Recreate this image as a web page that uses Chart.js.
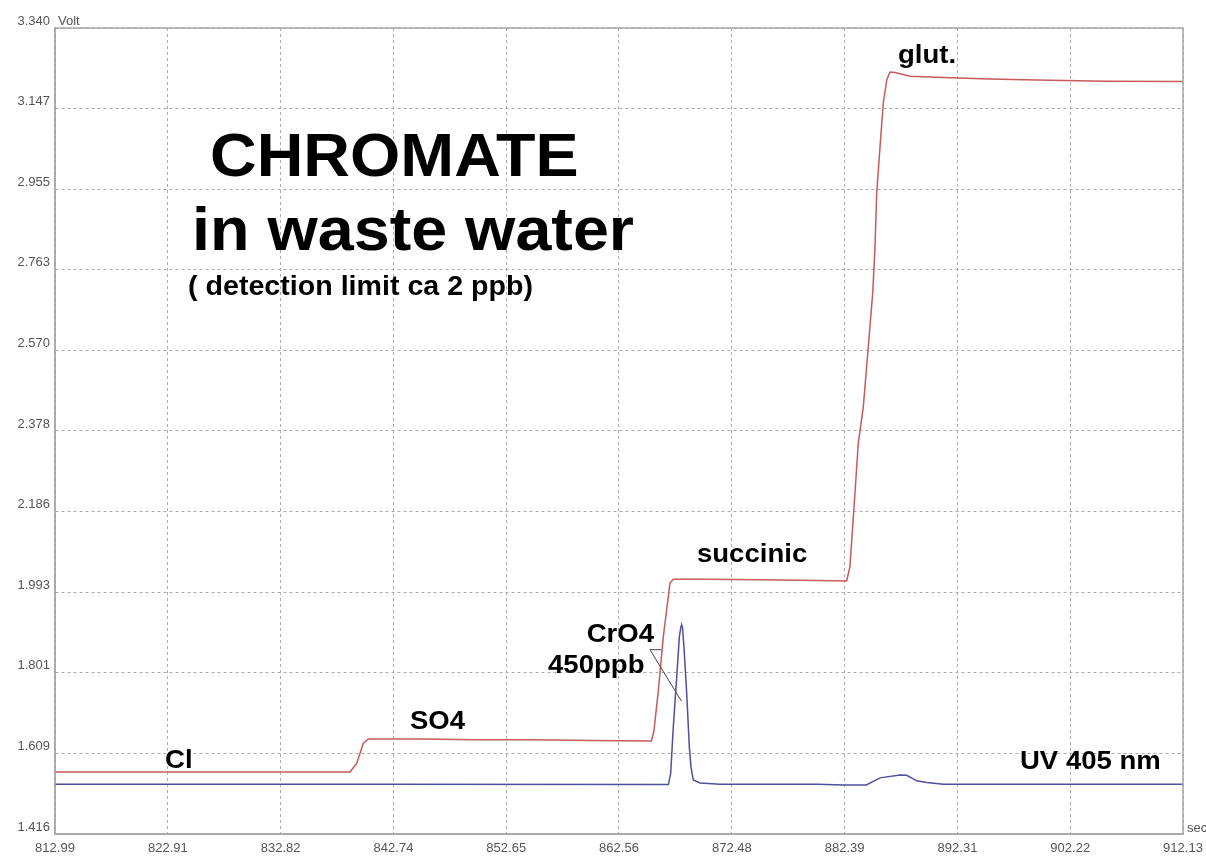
<!DOCTYPE html>
<html><head><meta charset="utf-8">
<script src="https://cdn.jsdelivr.net/npm/chart.js@4.4.1/dist/chart.umd.min.js"></script>
<style>html,body{margin:0;padding:0;background:#fff;overflow:hidden}#wrap{width:1206px;height:864px;position:relative}</style>
</head><body><div id="wrap"><canvas id="c" width="1206" height="864"></canvas></div>
<script>
// ---- data ----
const xTicks = [812.99, 822.91, 832.82, 842.74, 852.65, 862.56, 872.48, 882.39, 892.31, 902.22, 912.13];
const yTicks = [1.416, 1.609, 1.801, 1.993, 2.186, 2.378, 2.570, 2.763, 2.955, 3.147, 3.340];

// conductivity trace (red)
const condTime = [812.99, 838.92, 839.51, 839.80, 840.09, 840.53, 845.0, 850.0, 855.0, 860.0, 865.40, 865.62, 866.01, 866.16, 866.45, 866.75, 867.04, 867.33, 870.0, 875.0, 880.0, 882.57, 882.86, 883.30, 883.59, 884.03, 884.47, 884.86, 885.06, 885.21, 885.50, 885.79, 886.09, 886.38, 886.82, 888.13, 891.65, 895.17, 899.27, 905.42, 912.13];
const condVolt = [1.564, 1.564, 1.585, 1.609, 1.633, 1.643, 1.643, 1.641, 1.641, 1.639, 1.638, 1.660, 1.756, 1.800, 1.886, 1.951, 2.015, 2.024, 2.024, 2.023, 2.021, 2.020, 2.055, 2.230, 2.349, 2.435, 2.579, 2.708, 2.817, 2.946, 3.056, 3.161, 3.216, 3.235, 3.234, 3.225, 3.221, 3.218, 3.216, 3.213, 3.212];

// UV 405 nm trace (blue)
const uvTime = [812.99, 840.0, 866.90, 867.10, 867.33, 867.63, 867.86, 868.01, 868.07, 868.14, 868.27, 868.51, 868.74, 868.89, 869.09, 869.68, 871.44, 880.0, 882.3, 884.3, 885.5, 887.26, 887.85, 888.73, 889.61, 891.06, 912.13];
const uvVolt = [1.535, 1.535, 1.534, 1.560, 1.671, 1.789, 1.886, 1.912, 1.915, 1.910, 1.862, 1.752, 1.624, 1.575, 1.545, 1.538, 1.535, 1.535, 1.533, 1.533, 1.550, 1.557, 1.556, 1.543, 1.539, 1.535, 1.535];

// annotation texts anchored in data coordinates (time, volt)
const noteTexts = ['CHROMATE', 'in waste water', '( detection limit ca 2 ppb)', 'Cl', 'SO4', 'succinic', 'glut.', 'CrO4', '450ppb', 'UV 405 nm'];
const noteTime  = [826.61, 825.03, 824.68, 822.66, 844.19, 869.41, 887.08, 859.72, 856.32, 897.80];
const noteVolt  = [2.987, 2.810, 2.703, 1.574, 1.667, 2.065, 3.256, 1.875, 1.800, 1.571];
const noteSize  = [61, 61, 27, 26, 26, 26, 26, 26, 26, 26];
// leader line for CrO4 (time, volt)
const leaderTime = [866.25, 865.28, 868.05];
const leaderVolt = [1.856, 1.856, 1.733];

// ---- drawing ----
const FONT = '"Liberation Sans", Arial, Helvetica, sans-serif';
const toXY = (ts, vs) => ts.map((t, i) => ({x: t, y: vs[i]}));

const overlay = {
  id: 'overlay',
  afterDraw(chart) {
    const {ctx, chartArea: a, scales: {x, y}} = chart;
    ctx.save();
    ctx.setLineDash([]);
    ctx.strokeStyle = '#a8a8a8';
    ctx.lineWidth = 1.5;
    ctx.strokeRect(a.left, a.top, a.right - a.left, a.bottom - a.top);

    ctx.fillStyle = '#555';
    ctx.font = '13px ' + FONT;
    ctx.textAlign = 'left';
    ctx.textBaseline = 'middle';
    ctx.fillText('Volt', a.left + 3, y.getPixelForValue(yTicks[yTicks.length - 1]) - 7);
    ctx.fillText('sec', a.right + 4, y.getPixelForValue(yTicks[0]) - 6);

    // leader
    ctx.strokeStyle = '#444';
    ctx.lineWidth = 1;
    ctx.beginPath();
    leaderTime.forEach((t, i) => {
      const px = x.getPixelForValue(t), py = y.getPixelForValue(leaderVolt[i]);
      if (i === 0) ctx.moveTo(px, py); else ctx.lineTo(px, py);
    });
    ctx.stroke();

    ctx.fillStyle = '#000';
    ctx.textBaseline = 'alphabetic';
    noteTexts.forEach((txt, i) => {
      ctx.font = 'bold ' + noteSize[i] + 'px ' + FONT;
      const px = x.getPixelForValue(noteTime[i]), py = y.getPixelForValue(noteVolt[i]);
      ctx.save();
      ctx.translate(px, py);
      ctx.scale(1.06, 1);
      ctx.fillText(txt, 0, 0);
      ctx.restore();
    });
    ctx.restore();
  }
};

new Chart(document.getElementById('c'), {
  type: 'line',
  data: {
    datasets: [
      {label: 'Conductivity', data: toXY(condTime, condVolt), borderColor: '#c85a5a', borderWidth: 1.5, pointRadius: 0, tension: 0, fill: false},
      {label: 'UV 405 nm', data: toXY(uvTime, uvVolt), borderColor: '#4f4f9c', borderWidth: 1.5, pointRadius: 0, tension: 0, fill: false}
    ]
  },
  options: {
    responsive: false,
    animation: false,
    devicePixelRatio: 1,
    layout: {padding: {top: 28, right: 23, left: 0, bottom: 0}},
    plugins: {legend: {display: false}, tooltip: {enabled: false}},
    scales: {
      x: {
        type: 'linear',
        min: xTicks[0], max: xTicks[xTicks.length - 1],
        afterBuildTicks: s => { s.ticks = xTicks.map(v => ({value: v})); },
        afterFit: s => { s.height = 30; s.paddingLeft = 0; s.paddingRight = 0; },
        grid: {color: '#ababab', lineWidth: 1, drawTicks: false},
        border: {display: true, color: '#a8a8a8', width: 1.5, dash: [3, 3]},
        ticks: {autoSkip: false, maxRotation: 0, padding: 7, color: '#555', font: {family: FONT, size: 13}, callback: v => Number(v).toFixed(2)}
      },
      y: {
        type: 'linear',
        min: yTicks[0], max: yTicks[yTicks.length - 1],
        afterBuildTicks: s => { s.ticks = yTicks.map(v => ({value: v})); },
        afterFit: s => { s.width = 55; s.paddingTop = 0; s.paddingBottom = 0; },
        grid: {color: '#ababab', lineWidth: 1, drawTicks: false},
        border: {display: true, color: '#a8a8a8', width: 1.5, dash: [3, 3]},
        ticks: {autoSkip: false, padding: 5, labelOffset: -7, color: '#555', font: {family: FONT, size: 13}, callback: v => Number(v).toFixed(3)}
      }
    }
  },
  plugins: [overlay]
});
</script>
</body></html>
